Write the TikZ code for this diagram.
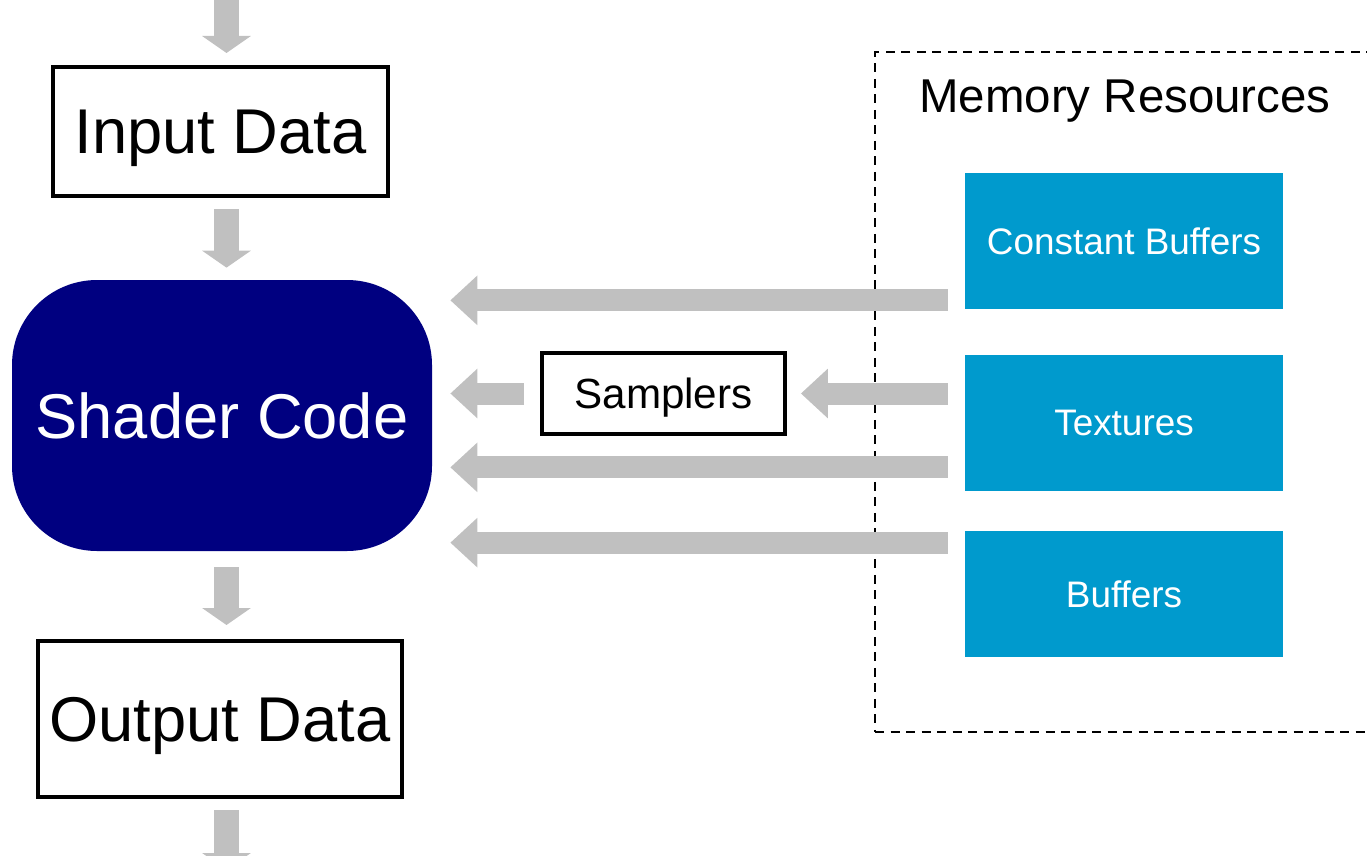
\documentclass[tikz,border=0pt]{standalone}
\usepackage{fontspec}
\setmainfont{Liberation Sans}
\usepackage{tikz}
\usetikzlibrary{calc, positioning, arrows.meta}
\definecolor{shaderNavy}{HTML}{000080}
\definecolor{memCyan}{HTML}{009ACD}
\definecolor{flowGrey}{HTML}{C0C0C0}
\tikzset{
  databox/.style = {draw=black, line width=0.08cm, fill=white, align=center,
                    font=\fontsize{36}{43}\selectfont, inner sep=0pt, text depth=0pt},
  shaderbox/.style = {fill=shaderNavy, rounded corners=1.7cm, text=white,
                    font=\fontsize{36}{43}\selectfont, inner sep=0pt},
  membox/.style  = {fill=memCyan, text=white, minimum width=6.36cm,
                    font=\fontsize{21}{25}\selectfont, inner sep=0pt, text depth=0pt},
  sampbox/.style = {draw=black, line width=0.075cm, fill=white,
                    font=\fontsize{24}{29}\selectfont, inner sep=0pt, text depth=0pt},
  zone/.style    = {draw=black, line width=0.035cm, dash pattern=on 0.18cm off 0.13cm},
  vfl/.style     = {-{Triangle[width=0.96cm, length=0.34cm]}, draw=flowGrey,
                    line width=0.5cm},
  hfl/.style     = {-{Triangle[width=0.96cm, length=0.54cm]}, draw=flowGrey,
                    line width=0.44cm}
}
\begin{document}
\begin{tikzpicture}
  \useasboundingbox (0,0) rectangle (27.34,-17.12);
  % memory zone, runs off the right edge
  \node[zone, minimum width=10.6cm, minimum height=13.6cm] (zone) at (22.8,-7.84) {};
  \node[font=\fontsize{27}{32}\selectfont, text depth=0pt] (memlbl) at (22.5,-1.92) {Memory Resources};
  % pipeline on the left
  \node[databox, minimum width=6.7cm, minimum height=2.58cm] (input) at (4.41,-2.63) {Input Data};
  \node[shaderbox, minimum width=8.4cm, minimum height=5.42cm] (shader) at (4.44,-8.31) {Shader Code};
  \node[databox, minimum width=7.28cm, minimum height=3.12cm] (output) at (4.40,-14.38) {Output Data};
  \node[sampbox, minimum width=4.86cm, minimum height=1.62cm] (samp) at (13.27,-7.87) {Samplers};
  % resources
  \node[membox, minimum height=2.72cm] (cbuf) at (22.48,-4.82) {Constant Buffers};
  \node[membox, minimum height=2.72cm] (tex) at (22.48,-8.46) {Textures};
  \node[membox, minimum height=2.52cm] (buf) at (22.48,-11.88) {Buffers};
  \coordinate (top) at (4.53,0.2);
  \coordinate (bottom) at (4.53,-17.4);
  % vertical flow
  \draw[vfl, shorten >=0.24cm] (top) -- (input.north -| top);
  \draw[vfl, shorten <=0.22cm, shorten >=0.24cm] (input.south -| top) -- (shader.north -| top);
  \draw[vfl, shorten <=0.32cm, shorten >=0.28cm] (shader.south -| top) -- (output.north -| top);
  \draw[vfl, shorten <=0.22cm] (output.south -| top) -- (bottom);
  % resources into the shader
  \draw[hfl, shorten <=0.34cm, shorten >=0.36cm] ([yshift=0.18cm]cbuf.south west) coordinate (a1) -- (a1 -| shader.east);
  \draw[hfl, shorten <=0.34cm, shorten >=0.28cm] (tex.west |- samp.east) -- (samp.east);
  \draw[hfl, shorten <=0.32cm, shorten >=0.36cm] (samp.west) -- (samp.west -| shader.east);
  \draw[hfl, shorten <=0.34cm, shorten >=0.36cm] ([yshift=0.48cm]tex.south west) coordinate (a4) -- (a4 -| shader.east);
  \draw[hfl, shorten <=0.34cm, shorten >=0.36cm] ([yshift=-0.24cm]buf.north west) coordinate (a5) -- (a5 -| shader.east);
\end{tikzpicture}
\end{document}
